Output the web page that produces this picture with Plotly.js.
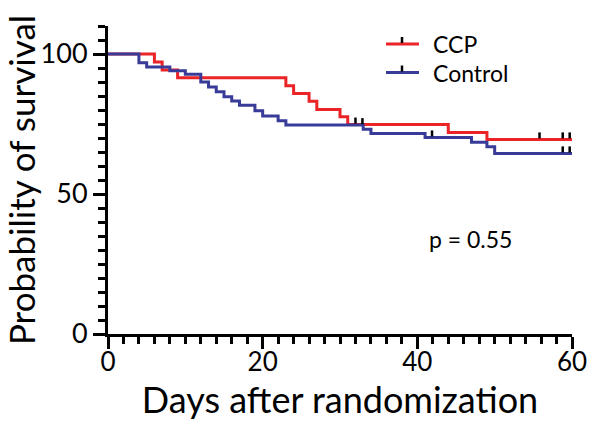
<!DOCTYPE html>
<html>
<head>
<meta charset="utf-8">
<script src="https://cdn.plot.ly/plotly-3.0.1.min.js"></script>
<style>html,body{margin:0;padding:0;background:#fff;}#chart{width:600px;height:423px;}</style>
</head>
<body>
<div id="chart"></div>
<script>
// Kaplan-Meier step data
const ccpDays = [0, 6, 7, 9, 23, 24, 26, 27, 30, 31, 44, 49, 60];
const ccpSurvival = [100, 97.1, 94.3, 91.5, 88.7, 85.9, 83.1, 80.2, 77.6, 74.8, 72.0, 69.5, 69.5];
const controlDays = [0, 4, 5, 8, 10, 12, 13, 14, 15, 16, 17, 19, 20, 22, 23, 33, 34, 41, 47, 49, 50, 60];
const controlSurvival = [100, 96.9, 95.4, 94.0, 92.8, 90.0, 88.2, 86.5, 84.7, 83.2, 81.7, 79.7, 77.9, 76.2, 74.6, 73.1, 71.6, 70.2, 68.5, 66.9, 64.5, 64.5];
// censored observations (days)
const ccpCensored = [32, 55.8, 58.8, 59.7];
const controlCensored = [32.9, 41.9, 58.8, 59.7];
const seriesNames = ["CCP", "Control"];
const xTickVals = [0, 20, 40, 60];
const yTickVals = [0, 50, 100];
const pValueText = "p = 0.55";

const RED = "#ec2327";
const BLUE = "#383c98";
const COLORS = [RED, BLUE];
const FONT = "Lato, 'Open Sans', sans-serif";

const W = 600, H = 423;
const M = {l: 108, r: 28, t: 26, b: 89};
const px2paperX = p => (p - M.l) / (W - M.l - M.r);
const px2paperY = p => (H - M.b - p) / (H - M.t - M.b);

function survivalAt(days, surv, t) {
  let s = surv[0];
  for (let i = 0; i < days.length; i++) { if (days[i] <= t) s = surv[i]; }
  return s;
}

function censorShapes(cDays, days, surv) {
  return cDays.map(t => ({
    type: "line", xref: "x", yref: "y",
    xsizemode: "pixel", ysizemode: "pixel",
    xanchor: t, x0: 0, x1: 0,
    yanchor: survivalAt(days, surv, t), y0: 1, y1: 7,
    line: {color: "#000", width: 2.5}
  }));
}

const traces = [
  {x: ccpDays, y: ccpSurvival, name: seriesNames[0], type: "scatter", mode: "lines",
   line: {shape: "hv", color: RED, width: 3}, showlegend: false},
  {x: controlDays, y: controlSurvival, name: seriesNames[1], type: "scatter", mode: "lines",
   line: {shape: "hv", color: BLUE, width: 3}, showlegend: false}
];

// manual legend (line with a censor tick, then label)
const legendRowsPx = [44, 72.5];
const legendShapes = [];
const legendAnnotations = [];
seriesNames.forEach((name, i) => {
  const yp = px2paperY(legendRowsPx[i]);
  legendShapes.push({type: "line", xref: "paper", yref: "paper",
    x0: px2paperX(386), x1: px2paperX(419), y0: yp, y1: yp,
    line: {color: COLORS[i], width: 3}});
  legendShapes.push({type: "line", xref: "paper", yref: "paper",
    ysizemode: "pixel", yanchor: yp, y0: 1, y1: 7,
    x0: px2paperX(402), x1: px2paperX(402),
    line: {color: "#000", width: 2.5}});
  legendAnnotations.push({text: name, xref: "paper", yref: "paper",
    x: px2paperX(431), y: yp, xanchor: "left", yanchor: "middle", showarrow: false,
    font: {size: 23, family: FONT, color: "#000"}});
});

const shapes = [].concat(
  censorShapes(ccpCensored, ccpDays, ccpSurvival),
  censorShapes(controlCensored, controlDays, controlSurvival),
  legendShapes
);

const layout = {
  width: W, height: H,
  margin: M,
  paper_bgcolor: "#fff", plot_bgcolor: "#fff",
  font: {family: FONT, color: "#000"},
  showlegend: false,
  xaxis: {
    range: [0, 60], tickvals: xTickVals, ticks: "outside", ticklen: 12, tickwidth: 3,
    tickcolor: "#000", showline: true, linecolor: "#000", linewidth: 3,
    showgrid: false, zeroline: false, tickfont: {size: 26, family: FONT},
    ticklabelstandoff: -9,
    minor: {dtick: 2, ticks: "outside", ticklen: 7, tickwidth: 3, tickcolor: "#000", showgrid: false},
    title: {text: "Days after randomization", font: {size: 36, family: FONT}, standoff: 2}
  },
  yaxis: {
    range: [0, 110], tickvals: yTickVals, ticks: "outside", ticklen: 12, tickwidth: 3,
    tickcolor: "#000", showline: true, linecolor: "#000", linewidth: 3,
    showgrid: false, zeroline: false, tickfont: {size: 27, family: FONT},
    ticksuffix: "\u00a0",
    minor: {dtick: 5, ticks: "outside", ticklen: 7, tickwidth: 3, tickcolor: "#000", showgrid: false},
    title: {text: "Probability of survival", font: {size: 35, family: FONT}, standoff: 2}
  },
  shapes: shapes,
  annotations: legendAnnotations.concat([{
    text: pValueText, xref: "x", yref: "y", x: 41.3, y: 33.8, xanchor: "left", yanchor: "middle",
    showarrow: false, font: {size: 23, family: FONT, color: "#000"}
  }])
};

Plotly.newPlot("chart", traces, layout, {displayModeBar: false, staticPlot: true});
</script>
</body>
</html>
